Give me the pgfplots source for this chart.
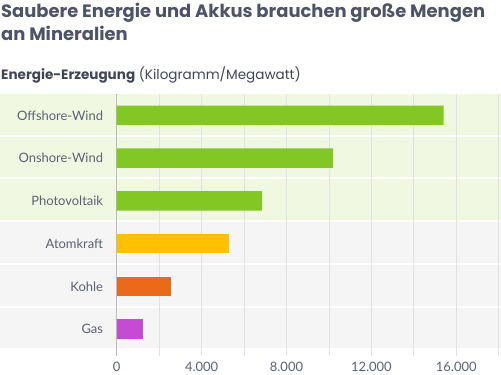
\documentclass[border=0pt]{standalone}
\usepackage{fontspec}
\setmainfont{Lato}
\newfontfamily\titlefont{Poppins}
\usepackage{pgfplots}
\pgfplotsset{compat=1.18}
\definecolor{titlecol}{HTML}{4D5467}
\definecolor{subcol}{HTML}{3F4555}
\definecolor{labelcol}{HTML}{5B6170}
\definecolor{barGreen}{HTML}{82C723}
\definecolor{barYellow}{HTML}{FFC000}
\definecolor{barOrange}{HTML}{EA6A1A}
\definecolor{barPurple}{HTML}{C64BD4}
\definecolor{bandGreen}{HTML}{F1F8E2}
\definecolor{bandGray}{HTML}{F5F5F5}
\definecolor{gridcol}{HTML}{E2E2E2}
\definecolor{axiscol}{HTML}{B8BCC3}
\begin{document}
\begin{tikzpicture}
\path[use as bounding box] (0bp,0bp) rectangle (501bp,-375bp);
% background bands (rows of 42.74bp starting at 94bp)
\foreach \k/\c in {0/bandGreen,1/bandGreen,2/bandGreen,3/bandGray,4/bandGray,5/bandGray}{
  \fill[\c] (0bp,{-94bp-\k*42.74bp}) rectangle (501bp,{-94bp-\k*42.74bp-40.7bp});
}
\node[anchor=base west, inner sep=0, text=titlecol, font=\titlefont\fontsize{18}{22}\selectfont\bfseries] at (1bp,-17.5bp) {Saubere Energie und Akkus brauchen große Mengen};
\node[anchor=base west, inner sep=0, text=titlecol, font=\titlefont\fontsize{18}{22}\selectfont\bfseries] at (1bp,-40bp) {an Mineralien};
\node[anchor=base west, inner sep=0, text=subcol, font=\titlefont\fontsize{13.6}{17}\selectfont] at (1bp,-79bp) {\textbf{Energie-Erzeugung} (Kilogramm/Megawatt)};
\begin{axis}[
  at={(116.7bp,-94bp)}, anchor=north west,
  scale only axis, width=382bp, height=262bp,
  xmin=0, xmax=18000, ymin=-0.5, ymax=5.63, y dir=reverse,
  axis y line*=left, axis x line*=bottom,
  y axis line style={draw=axiscol, line width=1.5bp, -},
  x axis line style={draw=none, -},
  xtick={0,4000,...,16000},
  minor xtick={2000,6000,...,18000},
  xmajorgrids, xminorgrids,
  major grid style={draw=gridcol, line width=0.8bp},
  minor grid style={draw=gridcol, line width=0.8bp},
  major tick length=0pt, minor tick length=0pt,
  ytick={0,1,2,3,4,5},
  yticklabels={Offshore-Wind,Onshore-Wind,Photovoltaik,Atomkraft,Kohle,Gas},
  y tick label style={inner sep=0pt, xshift=-13.5bp, text=labelcol, font=\fontsize{13}{15}\selectfont},
  x tick label style={inner sep=0pt, yshift=-6bp, text=labelcol, font=\fontsize{13}{15}\selectfont},
  scaled x ticks=false,
  xticklabel style={/pgf/number format/1000 sep={.}, /pgf/number format/assume math mode=true},
]
\addplot[xbar, bar width=0.46, bar shift=0pt, fill=barGreen, draw=none] coordinates {(15400,0) (10200,1) (6850,2)};
\addplot[xbar, bar width=0.46, bar shift=0pt, fill=barYellow, draw=none] coordinates {(5300,3)};
\addplot[xbar, bar width=0.46, bar shift=0pt, fill=barOrange, draw=none] coordinates {(2540,4)};
\addplot[xbar, bar width=0.46, bar shift=0pt, fill=barPurple, draw=none] coordinates {(1230,5)};
\end{axis}
\end{tikzpicture}
\end{document}
